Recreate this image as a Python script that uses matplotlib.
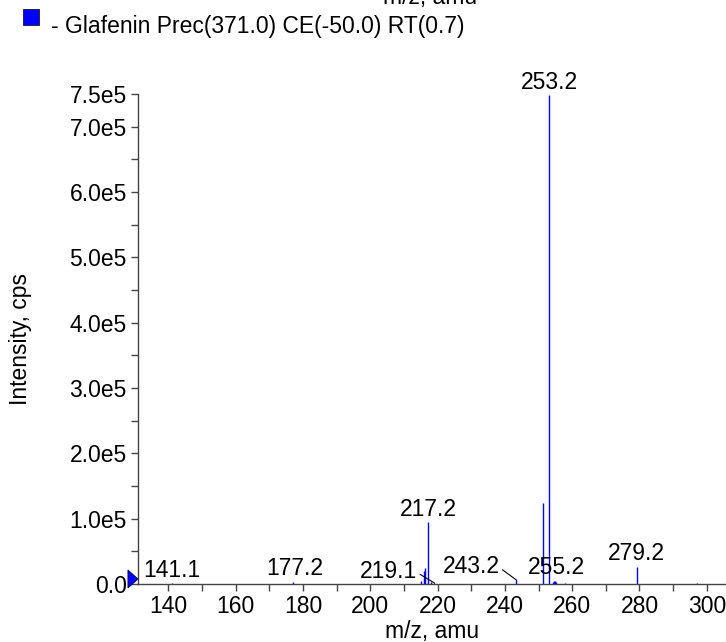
import matplotlib.pyplot as plt
from matplotlib.patches import Polygon
from matplotlib.ticker import MultipleLocator, FixedLocator

plt.rcParams['font.family'] = ['Liberation Sans', 'DejaVu Sans']

# --- spectrum data ---
mz = [141.1, 177.2, 215.2, 216.0, 216.3, 217.2, 218.0, 219.1, 243.2,
      251.2, 253.2, 254.2, 254.6, 254.9, 255.2, 258.0, 279.2, 297.1]
intensity = [1500, 3500, 5000, 20000, 25000, 94500, 2500, 1500, 7000,
             124500, 748000, 2500, 4000, 5000, 3000, 1000, 26500, 1500]

# labelled peaks
label_mz = [141.1, 177.2, 217.2, 219.1, 243.2, 253.2, 255.2, 279.2]
label_text = ['141.1', '177.2', '217.2', '219.1', '243.2', '253.2', '255.2', '279.2']

legend_text = '- Glafenin Prec(371.0) CE(-50.0) RT(0.7)'
yticks_major = [0, 1e5, 2e5, 3e5, 4e5, 5e5, 6e5, 7e5, 7.5e5]
ytick_labels = ['0.0', '1.0e5', '2.0e5', '3.0e5', '4.0e5', '5.0e5', '6.0e5', '7.0e5', '7.5e5']

FS = 16.5

fig = plt.figure(figsize=(7.26, 6.42), dpi=100)
ax = fig.add_axes([0.190, 0.0903, 0.81, 0.7633])

ax.vlines(mz, 0, intensity, color='#0000ff', linewidth=1)

ax.set_xlim(131, 305.7)
ax.set_ylim(0, 7.5e5)

# labels; two of them use leader lines
inten = dict(zip(mz, intensity))
offsets = {'141.1': (0, 1), '177.2': (1, 1), '219.1': (-33, 0),
           '243.2': (-32, 1), '255.2': (0, 2), '279.2': (0, 1)}
for m, t in zip(label_mz, label_text):
    y = inten[m]
    dx, dy = offsets.get(t, (0, 1))
    if t in ('219.1', '243.2'):
        ax.annotate(t, xy=(m, y), xytext=(dx, dy), textcoords='offset points',
                    ha='center', va='bottom', fontsize=FS,
                    arrowprops=dict(arrowstyle='-', color='black', lw=0.8,
                                    shrinkA=0, shrinkB=0,
                                    relpos=(1.0, 0.45)))
    else:
        ax.annotate(t, xy=(m, y), xytext=(dx, dy), textcoords='offset points',
                    ha='center', va='bottom', fontsize=FS)

ax.spines['top'].set_visible(False)
ax.spines['right'].set_visible(False)
for s in ('left', 'bottom'):
    ax.spines[s].set_color('#444444')
    ax.spines[s].set_linewidth(1)

ax.xaxis.set_major_locator(MultipleLocator(20))
ax.xaxis.set_minor_locator(MultipleLocator(10))
ax.yaxis.set_major_locator(FixedLocator(yticks_major))
ax.set_yticklabels(ytick_labels)
ax.yaxis.set_minor_locator(MultipleLocator(5e4))
ax.tick_params(axis='both', which='both', direction='out', length=5,
               width=1, color='#444444', labelsize=FS)
ax.tick_params(axis='x', pad=3)
ax.tick_params(axis='y', pad=3)

ax.set_xlabel('m/z, amu', fontsize=FS, labelpad=1)
ax.set_ylabel('Intensity, cps', fontsize=FS, labelpad=27)

# marker triangle at the zero line, left of the axis
tri = Polygon([(-0.017, -6100), (0.0, 7700), (-0.017, 21500)], closed=True,
              facecolor='#0000ff', edgecolor='#000044', linewidth=0.6,
              transform=ax.get_yaxis_transform(), clip_on=False, zorder=5)
ax.add_patch(tri)

# cut-off title and legend
fig.text(0.592, 0.9938, 'm/z, amu', ha='center', va='baseline', fontsize=FS)
fig.patches.append(plt.Rectangle((0.032, 0.961), 0.022, 0.025, facecolor='#0000ff',
                                 edgecolor='black', linewidth=0.5,
                                 transform=fig.transFigure, figure=fig))
fig.text(0.070, 0.9486, legend_text, ha='left', va='baseline', fontsize=FS)

fig.savefig('out.png', dpi=100)
